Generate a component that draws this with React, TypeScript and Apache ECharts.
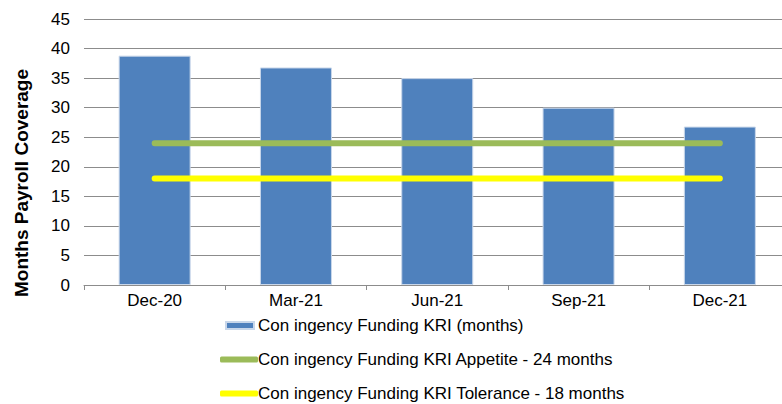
import React, { useEffect, useRef } from "react";
import * as echarts from "echarts";

const categories = ["Dec-20", "Mar-21", "Jun-21", "Sep-21", "Dec-21"];
const kriValues = [38.8, 36.8, 35.0, 30.0, 26.8];
const appetiteValues = [24, 24, 24, 24, 24];
const toleranceValues = [18, 18, 18, 18, 18];
const seriesNames = [
  "Con ingency Funding KRI (months)",
  "Con ingency Funding KRI Appetite - 24 months",
  "Con ingency Funding KRI Tolerance - 18 months",
];
const yAxisTitle = "Months Payroll Coverage";
const yTicks = { min: 0, max: 45, interval: 5 };

const FONT = "'Liberation Sans', Arial, sans-serif";

export default function App() {
  const ref = useRef<HTMLDivElement>(null);
  useEffect(() => {
    if (!ref.current) return;
    const chart = echarts.init(ref.current, undefined, { renderer: "svg" });
    chart.setOption({
      animation: false,
      backgroundColor: "#ffffff",
      textStyle: { fontFamily: FONT },
      grid: { left: 84, top: 19, width: 706.5, height: 266, containLabel: false },
      graphic: [
        {
          type: "text",
          x: 21,
          y: 183,
          rotation: Math.PI / 2,
          style: {
            text: yAxisTitle,
            font: `bold 19px ${FONT}`,
            fill: "#000",
            align: "center",
            verticalAlign: "middle",
          },
        },
      ],
      legend: [
        {
          data: [seriesNames[0]],
          left: 225,
          top: 317,
          orient: "vertical",
          icon: "rect",
          itemWidth: 28,
          itemHeight: 7,
          itemGap: 17,
          textStyle: { fontSize: 17, color: "#000", fontFamily: FONT, padding: [0, 0, 0, -1] },
          padding: 0,
        },
        {
          data: [seriesNames[1], seriesNames[2]],
          left: 220,
          top: 351,
          orient: "vertical",
          icon: "roundRect",
          itemWidth: 38,
          itemHeight: 6,
          itemGap: 17,
          textStyle: { fontSize: 17, color: "#000", fontFamily: FONT, padding: [0, 0, 0, -5] },
          padding: 0,
        },
      ],
      xAxis: {
        type: "category",
        data: categories,
        axisLine: { lineStyle: { color: "#8c8c8c", width: 1 } },
        axisTick: { show: true, length: 5, lineStyle: { color: "#8c8c8c" } },
        axisLabel: { fontSize: 17, color: "#000", margin: 7, fontFamily: FONT },
      },
      yAxis: {
        type: "value",
        min: yTicks.min,
        max: yTicks.max,
        interval: yTicks.interval,
        axisLine: { show: false },
        axisTick: { show: false },
        axisLabel: { fontSize: 17, color: "#000", margin: 14, fontFamily: FONT },
        splitLine: { lineStyle: { color: "#8c8c8c", width: 1 } },
      },
      series: [
        {
          name: seriesNames[0],
          type: "bar",
          data: kriValues,
          barWidth: 72,
          itemStyle: { color: "#4F81BD", borderColor: "#c9d7ea", borderWidth: 1 },
          z: 2,
        },
        {
          name: seriesNames[1],
          type: "line",
          data: appetiteValues,
          symbol: "none",
          lineStyle: { color: "#9BBB59", width: 6, cap: "round" },
          itemStyle: { color: "#9BBB59" },
          z: 3,
        },
        {
          name: seriesNames[2],
          type: "line",
          data: toleranceValues,
          symbol: "none",
          lineStyle: { color: "#FFFF00", width: 6, cap: "round" },
          itemStyle: { color: "#FFFF00" },
          z: 3,
        },
      ],
    });
    return () => chart.dispose();
  }, []);
  return (
    <div style={{ position: "absolute", left: 0, top: 0, width: 782, height: 404, overflow: "hidden" }}>
      <div ref={ref} style={{ width: 800, height: 404 }} />
    </div>
  );
}
